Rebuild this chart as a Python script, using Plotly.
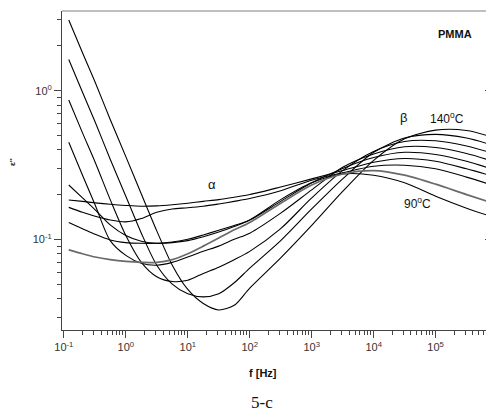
import plotly.graph_objects as go

# frequency grid [Hz]
freq = [0.12, 0.2, 0.32, 0.56, 1, 1.78, 3.16, 5.62, 10, 17.8, 31.6, 56.2, 100,
        316, 1000, 3160, 10000, 31600, 100000, 316000, 810000]

# dielectric loss curves (hottest -> coolest)
eps_A = [2.99, 1.80, 1.14, 0.64, 0.36, 0.202, 0.114, 0.067, 0.046, 0.037, 0.0335, 0.036, 0.047,
         0.075, 0.124, 0.21, 0.34, 0.475, 0.543, 0.54, 0.488]
eps_B = [1.62, 0.975, 0.615, 0.346, 0.195, 0.11, 0.067, 0.05, 0.043, 0.041, 0.043, 0.051, 0.064,
         0.098, 0.16, 0.255, 0.385, 0.48, 0.508, 0.48, 0.431]
eps_C = [0.866, 0.52, 0.33, 0.185, 0.106, 0.07, 0.056, 0.052, 0.053, 0.059, 0.065, 0.073, 0.083,
         0.118, 0.19, 0.29, 0.39, 0.455, 0.46, 0.425, 0.381]
eps_D = [0.45, 0.27, 0.17, 0.098, 0.078, 0.069, 0.067, 0.07, 0.076, 0.083, 0.09, 0.1, 0.11,
         0.15, 0.215, 0.305, 0.375, 0.42, 0.415, 0.378, 0.337]
eps_E = [0.232, 0.19, 0.158, 0.125, 0.106, 0.097, 0.094, 0.096, 0.1, 0.107, 0.115, 0.124, 0.135,
         0.18, 0.24, 0.30, 0.355, 0.385, 0.372, 0.335, 0.297]
eps_F = [0.184, 0.18, 0.176, 0.172, 0.169, 0.167, 0.168, 0.171, 0.175, 0.18, 0.185, 0.192, 0.2,
         0.225, 0.255, 0.29, 0.33, 0.35, 0.335, 0.298, 0.267]
eps_G = [0.164, 0.152, 0.143, 0.135, 0.131, 0.138, 0.152, 0.16, 0.163, 0.167, 0.173, 0.18, 0.188,
         0.212, 0.25, 0.28, 0.31, 0.315, 0.298, 0.262, 0.232]
eps_H = [0.13, 0.118, 0.108, 0.099, 0.095, 0.094, 0.094, 0.095, 0.098, 0.104, 0.112, 0.122, 0.135,
         0.185, 0.24, 0.275, 0.27, 0.24, 0.195, 0.162, 0.142]
eps_I = [0.085, 0.08, 0.076, 0.073, 0.071, 0.07, 0.07, 0.073, 0.08, 0.09, 0.102, 0.116, 0.13,
         0.175, 0.232, 0.275, 0.29, 0.27, 0.235, 0.2, 0.176]

series = [eps_A, eps_B, eps_C, eps_D, eps_E, eps_F, eps_G, eps_H, eps_I]
colors = ["#000000"] * 8 + ["#6a6a6a"]
widths = [1.1] * 8 + [1.7]

x_major = [0.1, 1, 10, 100, 1000, 10000, 100000]
x_major_text = ["10<sup>-1</sup>", "10<sup>0</sup>", "10<sup>1</sup>", "10<sup>2</sup>",
                "10<sup>3</sup>", "10<sup>4</sup>", "10<sup>5</sup>"]
y_major = [0.1, 1]
y_major_text = ["10<sup>-1</sup>", "10<sup>0</sup>"]

x_minor = [m * 10 ** e for e in range(-1, 6) for m in range(2, 10)]
y_minor = [m * 10 ** e for e in range(-2, 1) for m in range(2, 10)]

# the page body has an 8 px margin, so the figure is drawn 8 px smaller
OFF = 8
W, H = 494 - OFF, 420 - OFF
PL, PT = 62 - OFF, 11 - OFF
PR = W - (492 - OFF)
PB = H - (330 - OFF)
PW, PH = W - PL - PR, H - PT - PB


def to_paper(px, py):
    return (px - OFF - PL) / PW, 1 - (py - OFF - PT) / PH


fig = go.Figure()
for ys, c, w in zip(series, colors, widths):
    fig.add_trace(go.Scatter(x=freq, y=ys, mode="lines",
                             line=dict(color=c, width=w, shape="spline", smoothing=0.8),
                             showlegend=False, hoverinfo="skip"))

# invisible trace on right axis so that its inside ticks are drawn
fig.add_trace(go.Scatter(x=[1], y=[1], yaxis="y2", mode="markers",
                         marker=dict(opacity=0), showlegend=False, hoverinfo="skip"))

axcol = "#444444"
fnt = dict(family="Liberation Sans, Arial, sans-serif", size=11, color="#333333")
yr = [-1.61, 0.536]

fig.update_layout(
    template="none",
    width=W, height=H,
    margin=dict(l=PL, r=PR, t=PT, b=PB, pad=0),
    paper_bgcolor="white", plot_bgcolor="white",
    font=fnt,
    xaxis=dict(type="log", range=[-1.03, 5.91], showgrid=False, zeroline=False,
               automargin=False,
               showline=True, linecolor=axcol, linewidth=1,
               ticks="outside", ticklen=7, tickcolor=axcol, tickwidth=1,
               tickmode="array", tickvals=x_major, ticktext=x_major_text,
               tickfont=fnt,
               minor=dict(tickmode="array", tickvals=x_minor, ticks="outside",
                          ticklen=4, tickcolor=axcol, tickwidth=1, showgrid=False)),
    yaxis=dict(type="log", range=yr, showgrid=False, zeroline=False,
               automargin=False,
               showline=True, linecolor=axcol, linewidth=1,
               ticks="outside", ticklen=7, tickcolor=axcol, tickwidth=1,
               tickmode="array", tickvals=y_major, ticktext=y_major_text,
               tickfont=fnt,
               minor=dict(tickmode="array", tickvals=y_minor, ticks="outside",
                          ticklen=4, tickcolor=axcol, tickwidth=1, showgrid=False)),
    yaxis2=dict(type="log", range=yr, overlaying="y", side="right", showgrid=False,
                automargin=False,
                zeroline=False, showline=False, showticklabels=False,
                ticks="inside", ticklen=7, tickcolor=axcol, tickwidth=1,
                tickmode="array", tickvals=y_major,
                minor=dict(tickmode="array", tickvals=y_minor, ticks="inside",
                           ticklen=4, tickcolor=axcol, tickwidth=1, showgrid=False)),
)

# lighter top frame line
fig.add_shape(type="line", xref="paper", yref="paper", x0=0, x1=1, y0=1, y1=1,
              line=dict(color="#808080", width=1))

ann = [
    ("<b>PMMA</b>", 455, 34, 11, "Liberation Sans, Arial, sans-serif", 0),
    ("β", 403, 118, 13, "Liberation Sans, Arial, sans-serif", 0),
    ("140<sup>o</sup>C", 447, 118, 12, "Liberation Sans, Arial, sans-serif", 0),
    ("α", 212, 184, 13, "Liberation Sans, Arial, sans-serif", 0),
    ("90<sup>o</sup>C", 417, 203, 12, "Liberation Sans, Arial, sans-serif", 0),
    ("<b>f [Hz]</b>", 263, 373, 11, "Liberation Sans, Arial, sans-serif", 0),
    ("<b>ε''</b>", 12, 162, 8, "Liberation Sans, Arial, sans-serif", -90),
    ("5-c", 262, 402, 17, "Liberation Serif, Times New Roman, serif", 0),
]
for text, px, py, size, fam, ang in ann:
    xp, yp = to_paper(px, py)
    fig.add_annotation(text=text, x=xp, y=yp, xref="paper", yref="paper",
                       showarrow=False, xanchor="center", yanchor="middle",
                       textangle=ang,
                       font=dict(family=fam, size=size, color="#111111"))

fig.write_html("out.html")
